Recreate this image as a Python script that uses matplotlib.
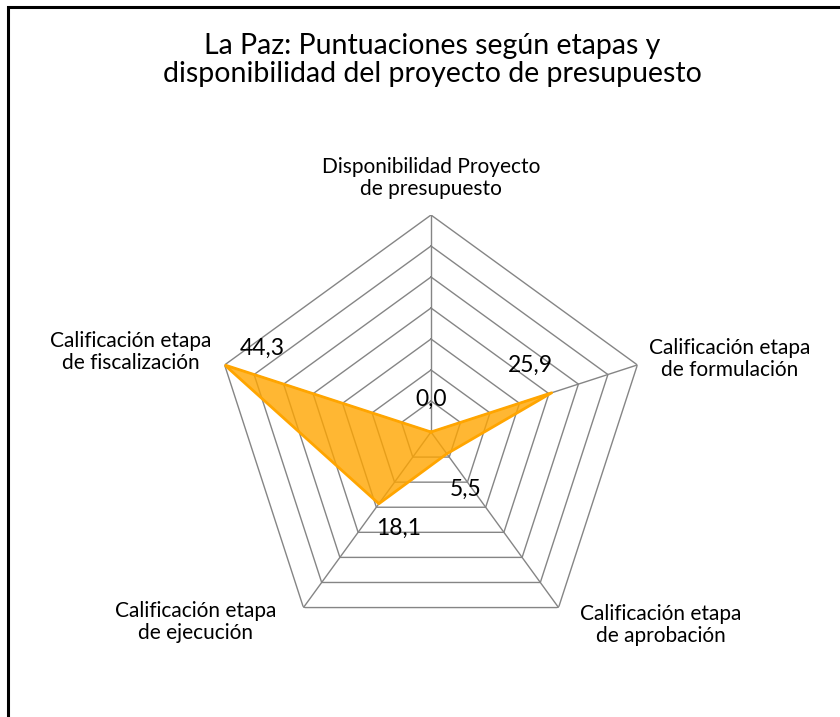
import matplotlib
matplotlib.use('Agg')
import matplotlib.pyplot as plt
import matplotlib.patches as patches
import numpy as np

plt.rcParams['font.family'] = ['Lato', 'DejaVu Sans']

title = 'La Paz: Puntuaciones según etapas y\ndisponibilidad del proyecto de presupuesto'
categories = ['Disponibilidad Proyecto\nde presupuesto',
              'Calificación etapa\nde formulación',
              'Calificación etapa\nde aprobación',
              'Calificación etapa\nde ejecución',
              'Calificación etapa\nde fiscalización']
values = [0.0, 25.9, 5.5, 18.1, 44.3]

r_max = 44.3
n_rings = 7

W, H = 840, 717
fig = plt.figure(figsize=(W / 100, H / 100), dpi=100)

# polar axes centred at (431, 432) px, outer ring radius 217 px
cx, cy, rad = 431, 432, 217
ax = fig.add_axes([(cx - rad) / W, 1 - (cy + rad) / H, 2 * rad / W, 2 * rad / H],
                  projection='polar')
ax.set_theta_offset(np.pi / 2)
ax.set_theta_direction(-1)
ax.set_ylim(0, r_max)
ax.grid(False)
ax.spines['polar'].set_visible(False)
ax.set_xticks([])
ax.set_yticks([])
ax.patch.set_alpha(0)

n = len(categories)
angles = np.arange(n) * 2 * np.pi / n
closed = np.append(angles, angles[0])

grid_col = '#858585'
for lev in np.linspace(0, r_max, n_rings + 1)[1:]:
    ax.plot(closed, [lev] * (n + 1), color=grid_col, lw=1, zorder=1)
for a in angles:
    ax.plot([a, a], [0, r_max], color=grid_col, lw=1, zorder=1)

vals = np.append(values, values[0])
ax.fill(closed, vals, color='#FFA500', alpha=0.8, lw=0, zorder=2)
ax.plot(closed, vals, color='#FFA500', lw=2, zorder=3)

# data labels, offsets in pixels from the point
offsets = [(0, 33), (-21, 27), (19, -36), (20, -25), (38, 17)]
for a, v, (dx, dy) in zip(angles, values, offsets):
    ax.annotate(f'{v:.1f}'.replace('.', ','), (a, v),
                xytext=(dx * 0.72, dy * 0.72), textcoords='offset points',
                ha='center', va='center', fontsize=16.5, color='black', zorder=5)

# category labels (centres in px)
label_pos = [(431, 178), (730, 359), (661, 625), (196, 622), (131, 352)]
for txt, (px, py) in zip(categories, label_pos):
    fig.text(px / W, 1 - py / H, txt, ha='center', va='center',
             fontsize=15, linespacing=1.12, color='black')

fig.text(432 / W, 1 - 60 / H, title, ha='center', va='center',
         fontsize=20.5, linespacing=1.1, color='black')

# frame: only left and top edges fall inside the image
fig.patches.append(patches.Rectangle((8 / W, -0.1), 1.2, 1 - 7 / H + 0.1,
                                     transform=fig.transFigure, fill=False,
                                     ec='black', lw=2.2))

fig.savefig('out.png', dpi=100, facecolor='white')
